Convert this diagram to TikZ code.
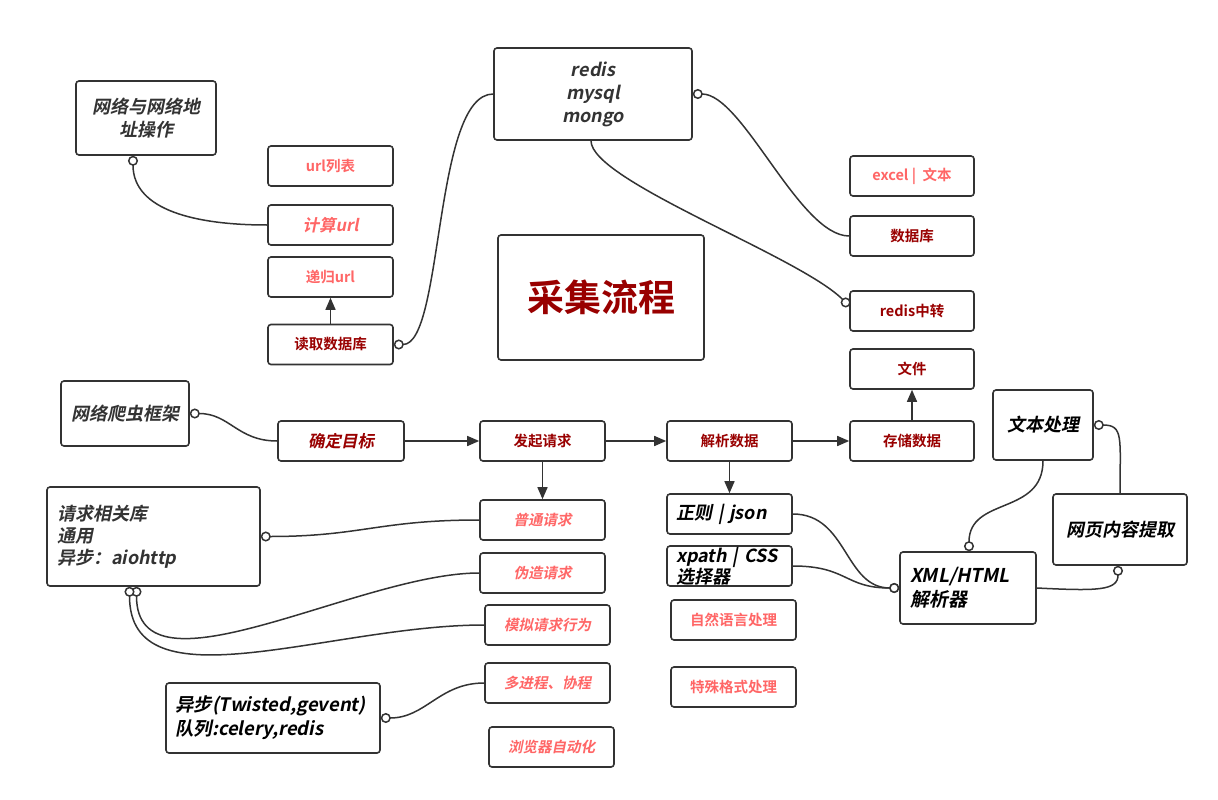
\documentclass[tikz,border=0pt]{standalone}
\usepackage{fontspec}
\setmainfont{Noto Sans CJK SC}[BoldFont={* Bold},ItalicFont={Noto Sans CJK SC},ItalicFeatures={FakeSlant=0.2},BoldItalicFont={* Bold},BoldItalicFeatures={FakeSlant=0.2}]
\usetikzlibrary{arrows.meta}
\definecolor{tinta}{HTML}{333333}
\definecolor{granate}{HTML}{990000}
\definecolor{rosa}{HTML}{FF6666}

\begin{document}
\begin{tikzpicture}[x=1pt,y=1pt,
    caja/.style={draw=tinta, line width=1.6pt, rounded corners=3pt, fill=white, align=center, inner sep=3pt, minimum width=125pt, minimum height=40pt},
    oscuro/.style={text=granate, font=\bfseries\fontsize{14.5}{17}\selectfont},
    claro/.style={text=rosa, font=\bfseries\fontsize{14.5}{17}\selectfont},
    claroit/.style={text=rosa, font=\bfseries\itshape\fontsize{14.5}{17}\selectfont},
    gris/.style={text=tinta, font=\bfseries\itshape\fontsize{18}{23}\selectfont},
    negro/.style={text=black, font=\bfseries\itshape\fontsize{18}{23}\selectfont},
    izq/.style={align=left, inner xsep=10pt},
    flecha/.style={draw=tinta, line width=1.5pt, -{Triangle[length=12pt,width=10pt]}},
    enlace/.style={draw=tinta, line width=1.5pt, {Circle[open,fill=white,length=10pt,width=10pt]}-},
    enlacefin/.style={draw=tinta, line width=1.5pt, -{Circle[open,fill=white,length=10pt,width=10pt]}}]
    \useasboundingbox[fill=white] (0,0) rectangle (1218,-800);

    % Nodos
    \node[caja,gris,minimum width=140pt,minimum height=74pt] (N1) at (146,-118) {网络与网络地\\址操作};
    \node[caja,claro] (U1) at (330.5,-166) {url列表};
    \node[caja,claroit,font=\bfseries\itshape\fontsize{16.5}{19}\selectfont] (U2) at (330.5,-225) {计算url};
    \node[caja,claro] (U3) at (330.5,-277) {递归url};
    \node[caja,oscuro] (U4) at (330.5,-344.5) {读取数据库};
    \node[caja,gris,minimum width=198pt,minimum height=92pt] (DB) at (593,-94) {redis\\mysql\\mongo};
    \node[caja,oscuro,minimum width=206pt,minimum height=125pt,font=\bfseries\fontsize{37}{44}\selectfont] (T) at (601,-297.5) {采集流程};

    \node[caja,claro,minimum width=124pt] (S1) at (912,-176) {excel |\ \ 文本};
    \node[caja,oscuro,minimum width=124pt] (S2) at (912,-236) {数据库};
    \node[caja,oscuro,minimum width=124pt] (S3) at (912,-311) {redis中转};
    \node[caja,oscuro,minimum width=124pt] (S4) at (912,-369) {文件};

    \node[caja,gris,minimum width=128pt,minimum height=65pt] (F) at (125,-413.5) {网络爬虫框架};
    \node[caja,oscuro,font=\bfseries\itshape\fontsize{16.5}{19}\selectfont,minimum width=126pt] (M1) at (341,-441) {确定目标};
    \node[caja,oscuro] (M2) at (542.5,-441) {发起请求};
    \node[caja,oscuro] (M3) at (729.5,-441) {解析数据};
    \node[caja,oscuro,minimum width=124pt] (M4) at (912,-441) {存储数据};
    \node[caja,negro,minimum width=100pt,minimum height=70pt] (P1) at (1043,-425) {文本处理};

    \node[caja,gris,izq,text width=193pt,minimum height=99pt,font=\bfseries\itshape\fontsize{18}{22}\selectfont] (R) at (153.5,-536.5) {请求相关库\\通用\\异步：aiohttp};
    \node[caja,claroit] (Q1) at (542.5,-520) {普通请求};
    \node[caja,claroit] (Q2) at (542.5,-573) {伪造请求};
    \node[caja,claroit] (Q3) at (547.5,-625) {模拟请求行为};
    \node[caja,claroit] (Q4) at (547.5,-683) {多进程、协程};
    \node[caja,claroit] (Q5) at (551.5,-747) {浏览器自动化};
    \node[caja,negro,izq,text width=196pt,minimum height=70pt,inner xsep=9pt,font=\bfseries\itshape\fontsize{18.5}{24}\selectfont] (A) at (273,-718) {异步(Twisted,gevent)\\队列:celery,redis};

    \node[caja,negro,izq,text width=107pt,inner xsep=9pt] (J1) at (729.5,-514) {正则 | json};
    \node[caja,negro,izq,text width=107pt,inner xsep=9pt,inner ysep=0pt,font=\bfseries\itshape\fontsize{18}{21}\selectfont] (J2) at (729.5,-566) {xpath | CSS\\选择器};
    \node[caja,claro] (J3) at (733.5,-620) {自然语言处理};
    \node[caja,claro] (J4) at (733.5,-687) {特殊格式处理};
    \node[caja,negro,izq,text width=116pt,minimum height=72pt,font=\bfseries\itshape\fontsize{19}{24}\selectfont] (X) at (968,-588) {XML/HTML\\解析器};
    \node[caja,negro,minimum width=134pt,minimum height=71pt] (W) at (1120,-529.5) {网页内容提取};

    % Conexiones
    \draw[flecha] (M1) -- (M2);
    \draw[flecha] (M2) -- (M3);
    \draw[flecha] (M3) -- (M4);
    \draw[flecha] (M2) -- (Q1);
    \draw[flecha] (M3) -- (J1);
    \draw[flecha] (M4) -- (S4);
    \draw[flecha] (U4) -- (U3);

    \draw[enlace] ([xshift=-13pt]N1.south) .. controls +(0,-55) and +(-70,0) .. (U2.west);
    \draw[enlace] (U4.east) .. controls +(50,0) and +(-60,0) .. (DB.west);
    \draw[enlace] (DB.east) .. controls +(50,0) and +(-50,0) .. (S2.west);
    \draw[enlacefin] ([xshift=-2pt]DB.south) .. controls +(0,-40) and +(-50,50) .. ([yshift=5pt]S3.west);
    \draw[enlace] (F.east) .. controls +(40,0) and +(-40,0) .. (M1.west);
    \draw[enlace] (R.east) .. controls +(100,0) and +(-100,0) .. (Q1.west);
    \draw[enlace] ([xshift=-17pt]R.south) .. controls +(0,-117) and +(-120,0) .. (Q2.west);
    \draw[enlace] ([xshift=-24pt]R.south) .. controls +(0,-122) and +(-155,0) .. (Q3.west);
    \draw[enlace] (A.east) .. controls +(45,0) and +(-45,0) .. (Q4.west);
    \draw[enlacefin] (J1.east) .. controls +(55,0) and +(-55,0) .. (X.west);
    \draw[enlacefin] (J2.east) .. controls +(55,0) and +(-55,0) .. (X.west);
    \draw[enlacefin] (P1.south) .. controls +(0,-55) and +(0,55) .. ([xshift=1pt]X.north);
    \draw[enlacefin] (W.north) .. controls +(0,55) and +(30,0) .. (P1.east);
    \draw[enlacefin] (X.east) .. controls +(60,-3) and +(0,-25) .. ([xshift=-2pt]W.south);
\end{tikzpicture}
\end{document}
